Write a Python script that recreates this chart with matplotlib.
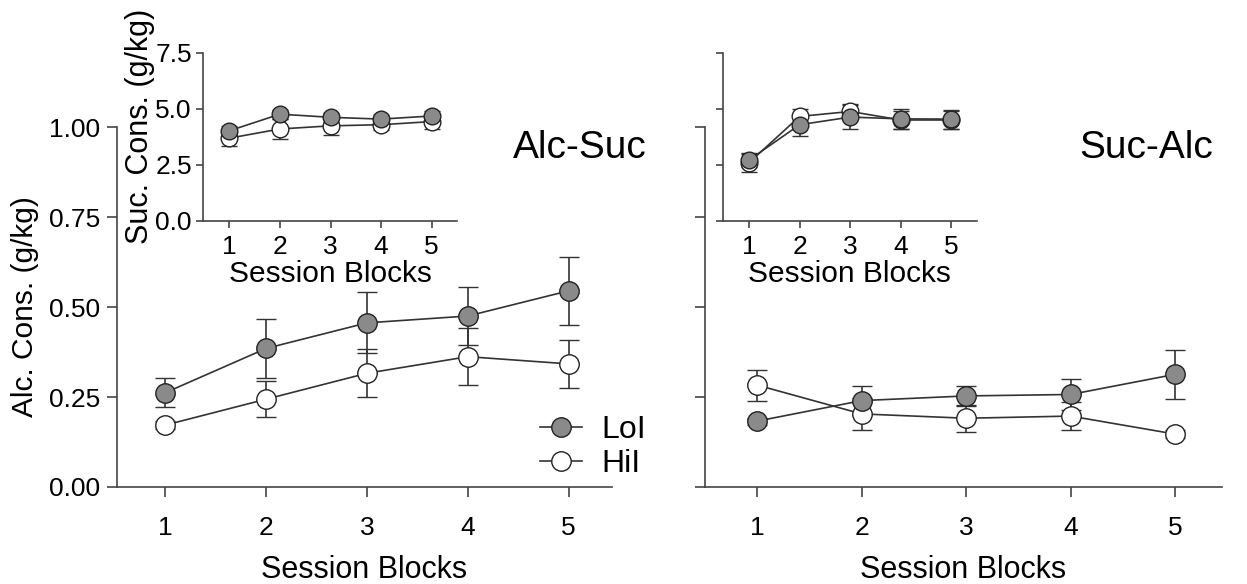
import matplotlib
matplotlib.use('agg')
import matplotlib.pyplot as plt

plt.rcParams['font.family'] = ['Liberation Sans', 'DejaVu Sans']

# Data
blocks = [1, 2, 3, 4, 5]

# Alc-Suc, alcohol consumption (g/kg)
as_loi = [0.262, 0.385, 0.456, 0.475, 0.545]
as_loi_err = [0.040, 0.082, 0.085, 0.080, 0.095]
as_hii = [0.172, 0.244, 0.316, 0.362, 0.342]
as_hii_err = [0.010, 0.050, 0.066, 0.080, 0.067]

# Suc-Alc, alcohol consumption (g/kg)
sa_loi = [0.183, 0.240, 0.253, 0.257, 0.313]
sa_loi_err = [0.010, 0.040, 0.028, 0.043, 0.068]
sa_hii = [0.283, 0.203, 0.191, 0.197, 0.147]
sa_hii_err = [0.043, 0.045, 0.038, 0.040, 0.010]

# Inset: sucrose consumption (g/kg)
as_suc_loi = [4.02, 4.76, 4.62, 4.54, 4.68]
as_suc_loi_err = [0.20, 0.20, 0.20, 0.20, 0.20]
as_suc_hii = [3.69, 4.10, 4.24, 4.29, 4.43]
as_suc_hii_err = [0.34, 0.45, 0.40, 0.25, 0.34]

sa_suc_loi = [2.72, 4.29, 4.63, 4.55, 4.54]
sa_suc_loi_err = [0.30, 0.52, 0.54, 0.46, 0.42]
sa_suc_hii = [2.60, 4.66, 4.88, 4.50, 4.50]
sa_suc_hii_err = [0.40, 0.35, 0.35, 0.40, 0.40]

GRAY = '#8a8a8a'
LINE = '#333333'


def plot_group(ax, y, err, filled, ms, label=None):
    return ax.errorbar(blocks, y, yerr=err, fmt='o-', color=LINE, lw=1.2,
                       ecolor=LINE, elinewidth=1.2, capsize=ms * 0.5,
                       capthick=1.2, ms=ms, mfc=GRAY if filled else 'white',
                       mec='#222222', mew=1.0, label=label, clip_on=False)


def style(ax, fs_tick):
    for s in ['top', 'right']:
        ax.spines[s].set_visible(False)
    for s in ['left', 'bottom']:
        ax.spines[s].set_color('#444444')
        ax.spines[s].set_linewidth(1.2)
    ax.tick_params(colors='#444444', labelcolor='black', labelsize=fs_tick,
                   direction='out', width=1.2)


fig = plt.figure(figsize=(12.47, 5.84), dpi=100)

# main panels
axL = fig.add_axes([0.0938, 0.1661, 0.3970, 0.6164])
axR = fig.add_axes([0.5654, 0.1661, 0.4146, 0.6164])

handles = []
for ax, hii, hii_e, loi, loi_e in [(axL, as_hii, as_hii_err, as_loi, as_loi_err),
                                   (axR, sa_hii, sa_hii_err, sa_loi, sa_loi_err)]:
    c_hii = plot_group(ax, hii, hii_e, False, 14, 'HiI')
    c_loi = plot_group(ax, loi, loi_e, True, 14, 'LoI')
    if not handles:
        handles = [c_loi[0], c_hii[0]]
    style(ax, 19)
    ax.set_ylim(0, 1.0)
    ax.set_yticks([0, 0.25, 0.5, 0.75, 1.0])
    ax.set_xticks(blocks)
    ax.tick_params(axis='both', length=7)
    ax.tick_params(axis='x', pad=14)
    ax.tick_params(axis='y', pad=5)
    ax.set_xlabel('Session Blocks', fontsize=22, labelpad=11)

axL.set_xlim(0.52, 5.43)
axR.set_xlim(0.50, 5.45)
axL.set_yticklabels(['0.00', '0.25', '0.50', '0.75', '1.00'])
axR.set_yticklabels([])
axL.set_ylabel('Alc. Cons. (g/kg)', fontsize=21.5, labelpad=7)

axL.text(0.80, 0.914, 'Alc-Suc', transform=axL.transAxes, fontsize=28,
         ha='left', va='baseline')
axR.text(0.723, 0.914, 'Suc-Alc', transform=axR.transAxes, fontsize=28,
         ha='left', va='baseline')

axL.legend(handles, ['LoI', 'HiI'], loc='upper left',
           bbox_to_anchor=(0.855, 0.20), frameon=False, fontsize=23,
           handlelength=1.3, handletextpad=0.6, labelspacing=0.12,
           borderpad=0, borderaxespad=0)

# insets
insL = fig.add_axes([0.1628, 0.6216, 0.2037, 0.2882])
insR = fig.add_axes([0.5796, 0.6216, 0.2037, 0.2882])
for ax, hii, hii_e, loi, loi_e in [(insL, as_suc_hii, as_suc_hii_err, as_suc_loi, as_suc_loi_err),
                                   (insR, sa_suc_hii, sa_suc_hii_err, sa_suc_loi, sa_suc_loi_err)]:
    plot_group(ax, hii, hii_e, False, 12)
    plot_group(ax, loi, loi_e, True, 12)
    style(ax, 19)
    ax.set_ylim(0, 7.5)
    ax.set_yticks([0, 2.5, 5.0, 7.5])
    ax.set_xticks(blocks)
    ax.set_xlim(0.48, 5.5)
    ax.tick_params(axis='both', length=5, pad=3)
    ax.tick_params(axis='x', pad=5)
    ax.set_xlabel('Session Blocks', fontsize=21.5, labelpad=1)
    ax.patch.set_alpha(0)

insR.set_yticklabels([])
insL.set_ylabel('Suc. Cons. (g/kg)', fontsize=22)
insL.yaxis.set_label_coords(-0.19, 0.56)

fig.savefig('out.png', dpi=100)
